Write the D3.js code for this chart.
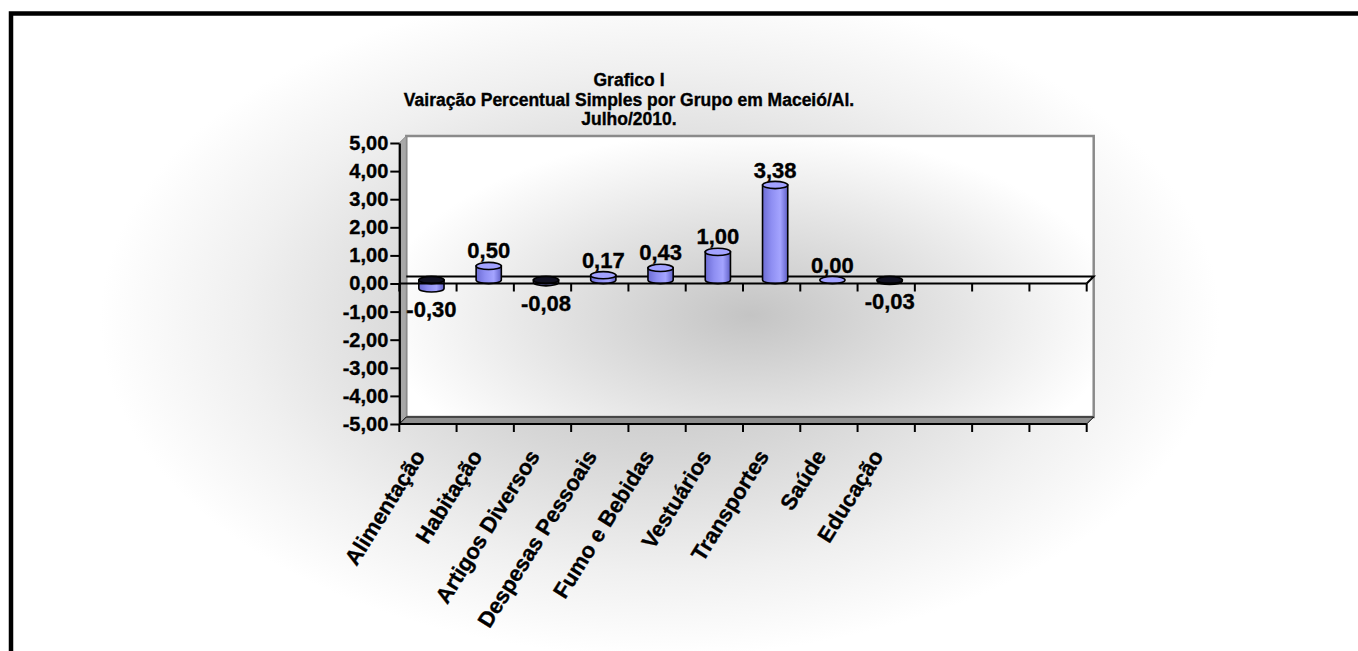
<!DOCTYPE html>
<html>
<head>
<meta charset="utf-8">
<script src="https://cdn.jsdelivr.net/npm/d3@7"></script>
<style>
  body { margin: 0; background: #fff; }
  svg { display: block; }
  text { font-family: "Liberation Sans", Arial, sans-serif; font-weight: bold; fill: #000; stroke: #000; stroke-width: 0.35px; }
</style>
</head>
<body>
<svg width="1358" height="651"></svg>
<script>
// data
const titleLines = ["Grafico I", "Vairação Percentual Simples por Grupo em Maceió/Al.", "Julho/2010."];
const categories = ["Alimentação", "Habitação", "Artigos Diversos", "Despesas Pessoais", "Fumo e Bebidas",
                    "Vestuários", "Transportes", "Saúde", "Educação"];
const values = [-0.30, 0.50, -0.08, 0.17, 0.43, 1.00, 3.38, 0.00, -0.03];
const yTicks = [5, 4, 3, 2, 1, 0, -1, -2, -3, -4, -5];
const slotCount = 12; // the category axis keeps 3 empty slots on the right

const fmt = d => d.toFixed(2).replace(".", ",").replace("-0,00", "0,00");

let svg = d3.select("svg");
let defs = svg.append("defs");

// background gradients
let bg = defs.append("radialGradient").attr("id", "bg")
  .attr("gradientUnits", "userSpaceOnUse")
  .attr("cx", 660).attr("cy", 320).attr("r", 560)
  .attr("gradientTransform", "translate(660,320) scale(1,0.6) translate(-660,-320)");
bg.append("stop").attr("offset", "0").attr("stop-color", "#bcbcbc");
bg.append("stop").attr("offset", "0.4").attr("stop-color", "#d6d6d6");
bg.append("stop").attr("offset", "0.75").attr("stop-color", "#f0f0f0");
bg.append("stop").attr("offset", "1").attr("stop-color", "#ffffff");

let wall = defs.append("radialGradient").attr("id", "wall")
  .attr("gradientUnits", "userSpaceOnUse")
  .attr("cx", 750).attr("cy", 315).attr("r", 370)
  .attr("gradientTransform", "translate(750,315) scale(1,0.5) translate(-750,-315)");
wall.append("stop").attr("offset", "0").attr("stop-color", "#c4c4c4");
wall.append("stop").attr("offset", "0.55").attr("stop-color", "#e4e4e4");
wall.append("stop").attr("offset", "1").attr("stop-color", "#ffffff");

let cyl = defs.append("linearGradient").attr("id", "cyl").attr("x1", 0).attr("x2", 1).attr("y1", 0).attr("y2", 0);
[["0", "#6c6cd4"], ["0.35", "#8e8ef2"], ["0.7", "#a4a4ff"], ["0.82", "#8888ea"], ["1", "#6060c4"]]
  .forEach(s => cyl.append("stop").attr("offset", s[0]).attr("stop-color", s[1]));

// frame
svg.append("rect").attr("x", 11).attr("y", 13.5).attr("width", 1400).attr("height", 700)
  .attr("fill", "url(#bg)").attr("stroke", "#000").attr("stroke-width", 4.5);

// title
svg.append("g").selectAll("text").data(titleLines).join("text")
  .attr("x", 629).attr("y", (d, i) => 86 + i * 19.5)
  .attr("text-anchor", "middle").style("font-size", "17.5px")
  .text(d => d);

// scales
const plotL = 399.3, plotR = 1086.7, plotT = 143, plotB = 424;
const depth = 7;
let x = d3.scaleBand().domain(d3.range(slotCount)).range([plotL, plotR]).padding(0);
let y = d3.scaleLinear().domain([-5, 5]).range([plotB, plotT]);

let g = svg.append("g");

// back wall, side wall and floor
g.append("rect").attr("x", plotL + depth).attr("y", plotT - depth)
  .attr("width", plotR - plotL).attr("height", plotB - plotT)
  .attr("fill", "url(#wall)").attr("stroke", "#8a8a8a").attr("stroke-width", 2.5);
g.append("path")
  .attr("d", `M${plotL},${plotT} L${plotL + depth},${plotT - depth} L${plotL + depth},${plotB - depth} L${plotL},${plotB} Z`)
  .attr("fill", "#a8a8a8").attr("stroke", "#8a8a8a").attr("stroke-width", 1);
g.append("path")
  .attr("d", `M${plotL},${plotB} L${plotL + depth},${plotB - depth} L${plotR + depth},${plotB - depth} L${plotR},${plotB} Z`)
  .attr("fill", "#8f8f8f").attr("stroke", "#000").attr("stroke-width", 1);

// zero plane
g.append("path")
  .attr("d", `M${plotL + depth},${y(0) - depth} L${plotR + depth},${y(0) - depth} L${plotR},${y(0)}`)
  .attr("fill", "none").attr("stroke", "#000").attr("stroke-width", 2);

// y axis
let yAxis = g.append("g").attr("transform", `translate(${plotL},0)`)
  .call(d3.axisLeft(y).tickValues(yTicks).tickFormat(fmt).tickSize(9).tickSizeOuter(0).tickPadding(2));
yAxis.select(".domain").attr("stroke", "#000").attr("stroke-width", 2.2);
yAxis.selectAll(".tick line").attr("stroke", "#000").attr("stroke-width", 2);
yAxis.selectAll(".tick text").style("font-size", "20px").attr("fill", "#000")
  .style("font-family", "'Liberation Sans', Arial, sans-serif").style("font-weight", "bold");

// cylinders
const rx = x.bandwidth() * 0.22, ry = 3.6;
let bars = g.append("g").selectAll("g").data(values).join("g");
bars.each(function(v, i) {
  let s = d3.select(this);
  let cx = x(i) + x.bandwidth() / 2 + depth / 2;
  let y0 = y(Math.max(v, 0)) - depth / 2;
  let y1 = y(Math.min(v, 0)) - depth / 2;
  if (y1 - y0 > 0.5) {
    s.append("path")
      .attr("d", `M${cx - rx},${y0} L${cx - rx},${y1} A${rx},${ry} 0 0 0 ${cx + rx},${y1} L${cx + rx},${y0} Z`)
      .attr("fill", "url(#cyl)").attr("stroke", "#000").attr("stroke-width", 1.6);
  }
  s.append("ellipse").attr("cx", cx).attr("cy", y0).attr("rx", rx).attr("ry", ry)
    .attr("fill", v < 0 ? "#111122" : "#a2a2ff").attr("stroke", "#000").attr("stroke-width", 1.6);
});

// category axis at zero and at the floor
const edges = d3.range(slotCount + 1).map(i => plotL + i * x.step());
[y(0), plotB].forEach(yy => {
  g.append("line").attr("x1", plotL).attr("x2", plotR).attr("y1", yy).attr("y2", yy)
    .attr("stroke", "#000").attr("stroke-width", 2.2);
  g.append("g").selectAll("line").data(edges).join("line")
    .attr("x1", d => d).attr("x2", d => d).attr("y1", yy).attr("y2", yy + 8)
    .attr("stroke", "#000").attr("stroke-width", 2);
});

// data labels
g.append("g").selectAll("text").data(values).join("text")
  .attr("x", (v, i) => x(i) + x.bandwidth() / 2 + depth / 2)
  .attr("y", v => v < 0 ? y(v) + 25 : y(v) - 11)
  .attr("text-anchor", "middle").style("font-size", "22px")
  .text(fmt);

// category labels
g.append("g").selectAll("text").data(categories).join("text")
  .attr("transform", (d, i) => `translate(${x(i) + x.bandwidth() / 2 - 2},456) rotate(-58)`)
  .attr("text-anchor", "end").style("font-size", "22px")
  .text(d => d);
</script>
</body>
</html>
